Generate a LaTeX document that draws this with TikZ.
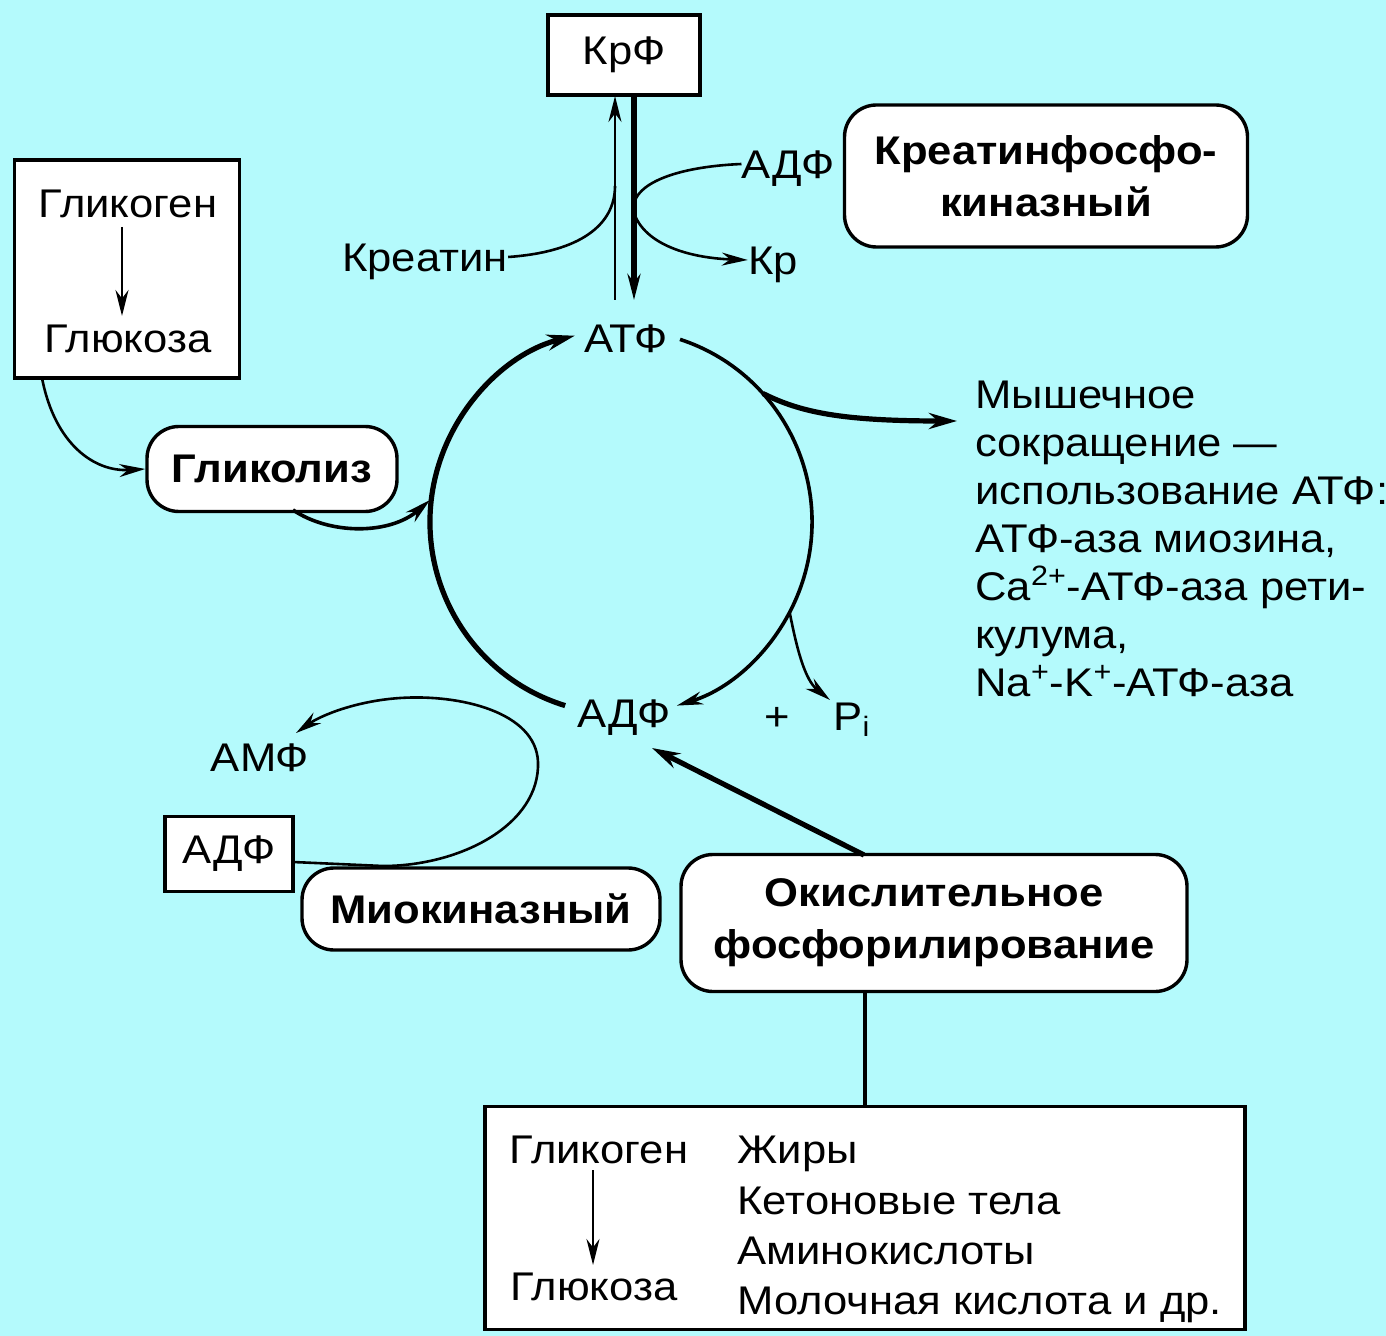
\documentclass[tikz,border=0pt]{standalone}
\usepackage{fontspec}
\setmainfont{Liberation Sans}[FakeStretch=1.09]
\usetikzlibrary{arrows.meta,calc}
\definecolor{bg}{RGB}{180,250,252}
\begin{document}
\begin{tikzpicture}[x=0.5pt,y=-0.5pt,
  every node/.style={font=\fontsize{20}{24}\selectfont, inner sep=0pt},
  lbl/.style={text height=14.3pt, text depth=0pt},
  sqbox/.style={draw, line width=1.7pt, fill=white},
  rbox/.style={draw, line width=1.7pt, fill=white, rounded corners=16pt, align=center,
     font=\fontsize{20}{26}\selectfont\bfseries},
  thinln/.style={line width=1.3pt},
  medln/.style={line width=1.8pt},
  thickln/.style={line width=2.6pt},
  tip/.style={-{Stealth[length=13pt,width=6.5pt]}},
  bigtip/.style={-{Stealth[length=14pt,width=8pt]}},
]
\fill[bg] (0,0) rectangle (1386,1336);
\useasboundingbox (0,0) rectangle (1386,1336);

% ---------- top: creatine phosphate ----------
\node[sqbox, minimum width=76pt, minimum height=40pt] (krf) at (624,55) {КрФ};
\node[lbl] (kreatin) at (425,257) {Креатин};
\node[lbl] (adpk) at (788,164) {АДФ};
\node[lbl] (kr) at (773,260) {Кр};
\node[rbox, minimum width=201.5pt, minimum height=71pt] (ckf) at (1046,176) {Креатинфосфо-\\киназный};

\coordinate (vlb) at (615,300);
\coordinate (vlt) at (615,96);
\coordinate (vrt) at (634,96);
\coordinate (vrb) at (634,300);
\coordinate (vlj) at (615,186);
\coordinate (vrj) at (634,205);
\coordinate (vrk) at (634,213);

\draw[thinln, tip] (vlb) -- (vlt);
\draw[thickln, tip] (vrt) -- (vrb);
\draw[thinln] (kreatin.east) .. controls (580,252) and (615,225) .. (vlj);
\draw[thinln] (adpk.west) .. controls (672,167) and (636,185) .. (vrj);
\draw[thinln, tip] (vrk) .. controls (645,245) and (690,258) .. (kr.west);

% ---------- ATP / ADP cycle ----------
\node[lbl] (atp) at (626,338) {АТФ};
\node[lbl] (adp) at (624,713) {АДФ};
\coordinate (cc) at (621,522);
\coordinate (la) at ($(cc)+(107:191 and 192)$);
\coordinate (ra) at ($(cc)+(288:191 and 192)$);
\coordinate (msplit) at ($(cc)+(318:191 and 192)$);
\coordinate (psplit) at ($(cc)+(28:191 and 192)$);

\draw[thickln, bigtip] (la) arc[start angle=107, end angle=256, x radius=191, y radius=192];
\draw[medln, tip] (ra) arc[start angle=288, end angle=433, x radius=191, y radius=192];

% muscle contraction
\node[anchor=north west, align=left] (musc) at (975,381)
  {Мышечное\\сокращение —\\использование АТФ:\\АТФ-аза миозина,\\Ca\textsuperscript{2+}-АТФ-аза рети-\\кулума,\\Na\textsuperscript{+}-K\textsuperscript{+}-АТФ-аза};
\coordinate (mtip) at (957,421);
\draw[thickln, bigtip] (msplit) .. controls (800,412) and (840,421) .. (mtip);

% Pi
\node[lbl] (plus) at (777,716) {+};
\node[lbl] (pi) at (852,716) {P\textsubscript{i}};
\coordinate (ptip) at (830,700);
\draw[thinln, tip] (psplit) .. controls (797,650) and (805,680) .. (ptip);

% ---------- glycolysis ----------
\node[sqbox, minimum width=112.5pt, minimum height=109pt] (glbox) at (127,269) {};
\node[lbl] (glg) at (128,203) {Гликоген};
\node[lbl] (glc) at (128,338) {Глюкоза};
\coordinate (ga1) at (122,227);
\coordinate (ga2) at (122,316);
\draw[thinln, tip] (ga1) -- (ga2);
\node[rbox, minimum width=125pt, minimum height=42.5pt] (gliko) at (272,469) {Гликолиз};
\coordinate (gs) at (42,378);
\draw[thinln, tip] (gs) .. controls (55,445) and (95,472) .. (gliko.west);
\coordinate (gstart) at (293,510);
\coordinate (gend) at (430,500);
\draw[medln, tip] (gstart) .. controls (330,535) and (390,535) .. (gend);

% ---------- myokinase ----------
\node[sqbox, minimum width=64pt, minimum height=37.5pt] (adpbox) at (229,854) {АДФ};
\node[rbox, minimum width=179pt, minimum height=41pt] (mio) at (481,909) {Миокиназный};
\node[lbl] (amf) at (260,757) {АМФ};
\coordinate (m0) at (293,862);
\coordinate (m1) at (383,866);
\coordinate (m2) at (538,762);
\coordinate (m3) at (400,698);
\coordinate (mtipa) at (296,733);
\draw[thinln, tip] (m0) -- (m1) .. controls (460,866) and (540,825) .. (m2)
   .. controls (536,712) and (460,694) .. (m3) .. controls (355,701) and (320,716) .. (mtipa);

% ---------- oxidative phosphorylation ----------
\node[rbox, minimum width=253pt, minimum height=68.5pt] (ox) at (934,923) {Окислительное\\фосфорилирование};
\coordinate (oxs) at (864,855);
\coordinate (oxt) at (652,748);
\draw[thickln, bigtip] (oxs) -- (oxt);

\node[sqbox, minimum width=380pt, minimum height=111.5pt] (bot) at (865,1218) {};
\coordinate (oxb) at (865,992);
\coordinate (botn) at (865,1107);
\draw[medln] (oxb) -- (botn);
\node[lbl] (bg1) at (599,1149) {Гликоген};
\node[lbl] (bg2) at (594,1286) {Глюкоза};
\coordinate (ba1) at (593,1170);
\coordinate (ba2) at (593,1265);
\draw[thinln, tip] (ba1) -- (ba2);
\node[lbl, anchor=west] (zh) at (737,1149) {Жиры};
\node[lbl, anchor=west] (ket) at (737,1200) {Кетоновые тела};
\node[lbl, anchor=west] (amk) at (737,1250) {Аминокислоты};
\node[lbl, anchor=west] (mol) at (737,1300) {Молочная кислота и др.};
\end{tikzpicture}
\end{document}
